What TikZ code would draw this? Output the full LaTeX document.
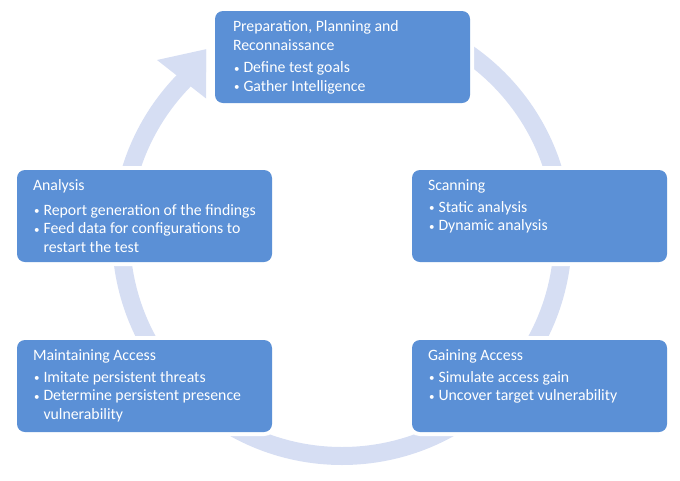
\documentclass[tikz,border=0pt]{standalone}
\usepackage{fontspec}
\setmainfont{Carlito}
\usetikzlibrary{calc}
\definecolor{boxblue}{RGB}{91,144,214}
\definecolor{ringblue}{RGB}{214,222,243}
\newcommand{\bl}{\makebox[10.5pt][l]{\hspace{1pt}\raisebox{0.6pt}{\fontsize{11}{11}\selectfont\textbullet}}}
\newcommand{\ind}{\hspace*{10.5pt}}
\begin{document}
\begin{tikzpicture}[x=1pt,y=-1pt,
  stagebox/.style={fill=boxblue, rounded corners=8pt, minimum width=255pt, minimum height=92pt, inner sep=0pt,
    preaction={draw=white, line width=8pt}},
  stagetext/.style={anchor=north west, inner sep=0pt, align=left, text=white,
    font=\fontsize{15.8}{18.5}\selectfont},
  ringband/.style={draw=ringblue, line width=18pt},
]
\useasboundingbox (0,0) rectangle (680,480);
\coordinate (c) at (342,235);
% ring with arrow head
\begin{scope}
  \clip (0,0) -- (206,0) -- (206,110) -- (474,110) -- (474,0) -- (680,0) -- (680,480) -- (0,480) -- cycle;
  \draw[ringband] (c) circle[radius=221pt];
  \coordinate (ho) at (157,60);
  \coordinate (ht) at (216,47);
  \coordinate (hi) at (208,100);
  \fill[ringblue] (ho) -- (ht) -- (hi) -- cycle;
\end{scope}
% boxes
\node[stagebox] (prep) at (342.5,57) {};
\node[stagebox] (anal) at (144.5,216) {};
\node[stagebox] (scan) at (539.5,216) {};
\node[stagebox] (main) at (144.5,386) {};
\node[stagebox] (gain) at (539.5,386) {};
% texts
\node[stagetext] (prept) at ($(prep.north west)+(18,10)$) {Preparation, Planning and\\Reconnaissance\\[4pt]\bl Define test goals\\\bl Gather Intelligence};
\node[stagetext] (analt) at ($(anal.north west)+(16,10)$) {Analysis\\[6pt]\bl Report generation of the findings\\\bl Feed data for configurations to\\\ind restart the test};
\node[stagetext] (scant) at ($(scan.north west)+(16,10)$) {Scanning\\[3pt]\bl Static analysis\\\bl Dynamic analysis};
\node[stagetext] (maint) at ($(main.north west)+(16,10)$) {Maintaining Access\\[3pt]\bl Imitate persistent threats\\\bl Determine persistent presence\\\ind vulnerability};
\node[stagetext] (gaint) at ($(gain.north west)+(16,10)$) {Gaining Access\\[3pt]\bl Simulate access gain\\\bl Uncover target vulnerability};
\end{tikzpicture}
\end{document}
